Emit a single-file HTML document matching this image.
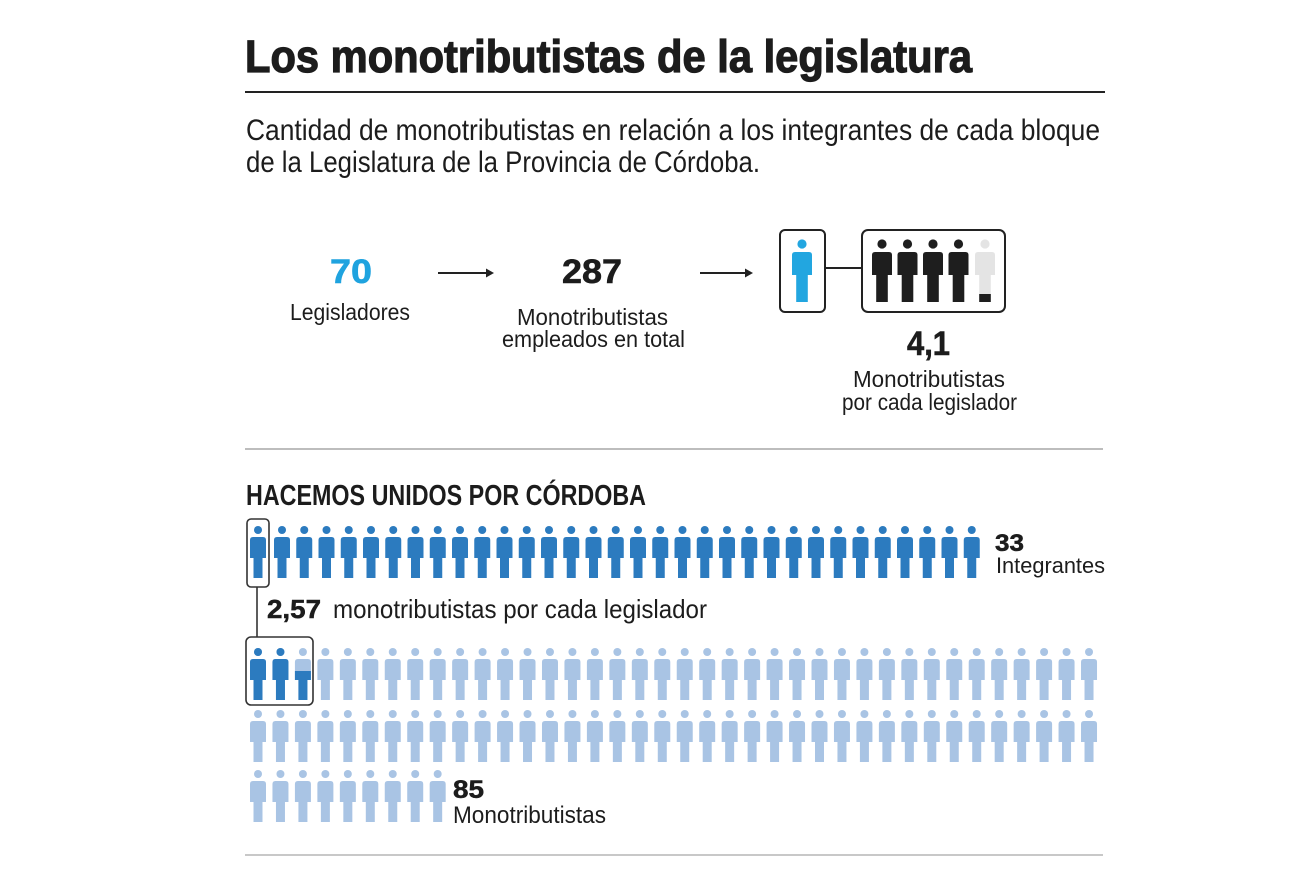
<!DOCTYPE html>
<html>
<head>
<meta charset="utf-8">
<style>
  html,body{margin:0;padding:0;background:#fff;}
  svg{display:block;}
  text{font-family:"Liberation Sans", Arial, sans-serif;fill:#1c1c1c;}
</style>
</head>
<body>
<svg width="1300" height="872" viewBox="0 0 1300 872" xmlns="http://www.w3.org/2000/svg">
  <defs>
    <g id="s">
      <circle cx="0" cy="0" r="4"/>
      <path d="M-8,28 V10 Q-8,7 -5,7 H5 Q8,7 8,10 V28 H4.5 V48 H-4.5 V28 Z"/>
    </g>
    <g id="L">
      <circle cx="0" cy="0" r="4.6"/>
      <path d="M-10,31 V11 Q-10,8 -7,8 H7 Q10,8 10,11 V31 H5.8 V58 H-5.8 V31 Z"/>
    </g>
    <g id="row38">
      <use href="#s" x="258" y="0"/><use href="#s" x="280.46" y="0"/><use href="#s" x="302.92" y="0"/><use href="#s" x="325.38" y="0"/>
      <use href="#s" x="347.84" y="0"/><use href="#s" x="370.3" y="0"/><use href="#s" x="392.76" y="0"/><use href="#s" x="415.22" y="0"/>
      <use href="#s" x="437.68" y="0"/><use href="#s" x="460.14" y="0"/><use href="#s" x="482.6" y="0"/><use href="#s" x="505.06" y="0"/>
      <use href="#s" x="527.52" y="0"/><use href="#s" x="549.98" y="0"/><use href="#s" x="572.44" y="0"/><use href="#s" x="594.9" y="0"/>
      <use href="#s" x="617.36" y="0"/><use href="#s" x="639.82" y="0"/><use href="#s" x="662.28" y="0"/><use href="#s" x="684.74" y="0"/>
      <use href="#s" x="707.2" y="0"/><use href="#s" x="729.66" y="0"/><use href="#s" x="752.12" y="0"/><use href="#s" x="774.58" y="0"/>
      <use href="#s" x="797.04" y="0"/><use href="#s" x="819.5" y="0"/><use href="#s" x="841.96" y="0"/><use href="#s" x="864.42" y="0"/>
      <use href="#s" x="886.88" y="0"/><use href="#s" x="909.34" y="0"/><use href="#s" x="931.8" y="0"/><use href="#s" x="954.26" y="0"/>
      <use href="#s" x="976.72" y="0"/><use href="#s" x="999.18" y="0"/><use href="#s" x="1021.64" y="0"/><use href="#s" x="1044.1" y="0"/>
      <use href="#s" x="1066.56" y="0"/><use href="#s" x="1089.02" y="0"/>
    </g>
    <clipPath id="c1"><rect x="290" y="671" width="30" height="40"/></clipPath>
    <clipPath id="c2"><rect x="970" y="294" width="30" height="10"/></clipPath>
  </defs>

  <!-- Title -->
  <text x="245" y="72" font-size="45" font-weight="bold" stroke="#1c1c1c" stroke-width="1.2" textLength="727" lengthAdjust="spacingAndGlyphs">Los monotributistas de la legislatura</text>
  <line x1="245" y1="92" x2="1105" y2="92" stroke="#222" stroke-width="2"/>

  <!-- Subtitle -->
  <text x="246" y="140" font-size="30" textLength="854" lengthAdjust="spacingAndGlyphs">Cantidad de monotributistas en relación a los integrantes de cada bloque</text>
  <text x="246" y="172" font-size="30" textLength="514" lengthAdjust="spacingAndGlyphs">de la Legislatura de la Provincia de Córdoba.</text>

  <!-- Top summary -->
  <text x="330" y="283" font-size="34" font-weight="bold" style="fill:#1fa3df" stroke="#1fa3df" stroke-width="0.6" textLength="42" lengthAdjust="spacingAndGlyphs">70</text>
  <text x="290" y="320" font-size="23" textLength="120" lengthAdjust="spacingAndGlyphs">Legisladores</text>

  <line x1="438" y1="273" x2="488" y2="273" stroke="#222" stroke-width="2"/>
  <polygon points="494,273 486,268.5 486,277.5" fill="#222"/>

  <text x="562" y="283" font-size="34" font-weight="bold" stroke="#1c1c1c" stroke-width="0.6" textLength="60" lengthAdjust="spacingAndGlyphs">287</text>
  <text x="517" y="325" font-size="23" textLength="151" lengthAdjust="spacingAndGlyphs">Monotributistas</text>
  <text x="502" y="347" font-size="23" textLength="183" lengthAdjust="spacingAndGlyphs">empleados en total</text>

  <line x1="700" y1="273" x2="747" y2="273" stroke="#222" stroke-width="2"/>
  <polygon points="753,273 745,268.5 745,277.5" fill="#222"/>

  <rect x="780" y="230" width="45" height="82" rx="5" fill="#fff" stroke="#222" stroke-width="2"/>
  <line x1="825" y1="268" x2="862" y2="268" stroke="#222" stroke-width="2"/>
  <rect x="862" y="230" width="143" height="82" rx="6" fill="#fff" stroke="#222" stroke-width="2"/>

  <use href="#L" x="802" y="244" fill="#22a6e0"/>
  <use href="#L" x="882" y="244" fill="#1e1e1e"/>
  <use href="#L" x="907.5" y="244" fill="#1e1e1e"/>
  <use href="#L" x="933" y="244" fill="#1e1e1e"/>
  <use href="#L" x="958.5" y="244" fill="#1e1e1e"/>
  <use href="#L" x="985" y="244" fill="#e4e4e4"/>
  <g clip-path="url(#c2)"><use href="#L" x="985" y="244" fill="#1e1e1e"/></g>

  <text x="907" y="355" font-size="34" font-weight="bold" stroke="#1c1c1c" stroke-width="0.6" textLength="43" lengthAdjust="spacingAndGlyphs">4,1</text>
  <text x="853" y="387" font-size="23" textLength="152" lengthAdjust="spacingAndGlyphs">Monotributistas</text>
  <text x="842" y="410" font-size="23" textLength="175" lengthAdjust="spacingAndGlyphs">por cada legislador</text>

  <line x1="245" y1="449" x2="1103" y2="449" stroke="#bdbdbd" stroke-width="2"/>

  <!-- Section -->
  <text x="246" y="505" font-size="29" font-weight="bold" textLength="400" lengthAdjust="spacingAndGlyphs">HACEMOS UNIDOS POR CÓRDOBA</text>

  <g fill="#2c7bbf">
    <use href="#s" x="258" y="530"/>
    <use href="#s" x="282" y="530"/><use href="#s" x="304.25" y="530"/><use href="#s" x="326.5" y="530"/><use href="#s" x="348.75" y="530"/>
    <use href="#s" x="371" y="530"/><use href="#s" x="393.25" y="530"/><use href="#s" x="415.5" y="530"/><use href="#s" x="437.75" y="530"/>
    <use href="#s" x="460" y="530"/><use href="#s" x="482.25" y="530"/><use href="#s" x="504.5" y="530"/><use href="#s" x="526.75" y="530"/>
    <use href="#s" x="549" y="530"/><use href="#s" x="571.25" y="530"/><use href="#s" x="593.5" y="530"/><use href="#s" x="615.75" y="530"/>
    <use href="#s" x="638" y="530"/><use href="#s" x="660.25" y="530"/><use href="#s" x="682.5" y="530"/><use href="#s" x="704.75" y="530"/>
    <use href="#s" x="727" y="530"/><use href="#s" x="749.25" y="530"/><use href="#s" x="771.5" y="530"/><use href="#s" x="793.75" y="530"/>
    <use href="#s" x="816" y="530"/><use href="#s" x="838.25" y="530"/><use href="#s" x="860.5" y="530"/><use href="#s" x="882.75" y="530"/>
    <use href="#s" x="905" y="530"/><use href="#s" x="927.25" y="530"/><use href="#s" x="949.5" y="530"/><use href="#s" x="971.75" y="530"/>
  </g>

  <rect x="247" y="519" width="22" height="68" rx="4" fill="none" stroke="#333" stroke-width="1.6"/>
  <line x1="257" y1="587" x2="257" y2="637" stroke="#333" stroke-width="1.6"/>

  <text x="995" y="551" font-size="24" font-weight="bold" stroke="#1c1c1c" stroke-width="0.5" textLength="29" lengthAdjust="spacingAndGlyphs">33</text>
  <text x="996" y="573" font-size="22" textLength="109" lengthAdjust="spacingAndGlyphs">Integrantes</text>

  <text x="267" y="618" font-size="26" font-weight="bold" stroke="#1c1c1c" stroke-width="0.5" textLength="54" lengthAdjust="spacingAndGlyphs">2,57</text>
  <text x="333" y="618" font-size="26" textLength="374" lengthAdjust="spacingAndGlyphs">monotributistas por cada legislador</text>

  <!-- Monotributistas rows -->
  <use href="#row38" x="0" y="652" fill="#a9c4e4"/>
  <use href="#row38" x="0" y="714" fill="#a9c4e4"/>
  <g fill="#a9c4e4">
    <use href="#s" x="258" y="774"/><use href="#s" x="280.46" y="774"/><use href="#s" x="302.92" y="774"/><use href="#s" x="325.38" y="774"/>
    <use href="#s" x="347.84" y="774"/><use href="#s" x="370.3" y="774"/><use href="#s" x="392.76" y="774"/><use href="#s" x="415.22" y="774"/>
    <use href="#s" x="437.68" y="774"/>
  </g>
  <g fill="#2c7bbf">
    <use href="#s" x="258" y="652"/>
    <use href="#s" x="280.46" y="652"/>
    <g clip-path="url(#c1)"><use href="#s" x="302.92" y="652"/></g>
  </g>

  <rect x="246" y="637" width="67" height="68" rx="5" fill="none" stroke="#333" stroke-width="1.6"/>

  <text x="453" y="798" font-size="25" font-weight="bold" stroke="#1c1c1c" stroke-width="0.5" textLength="31" lengthAdjust="spacingAndGlyphs">85</text>
  <text x="453" y="823" font-size="24" textLength="153" lengthAdjust="spacingAndGlyphs">Monotributistas</text>

  <line x1="245" y1="855" x2="1103" y2="855" stroke="#c8c8c8" stroke-width="2"/>
</svg>
</body>
</html>
